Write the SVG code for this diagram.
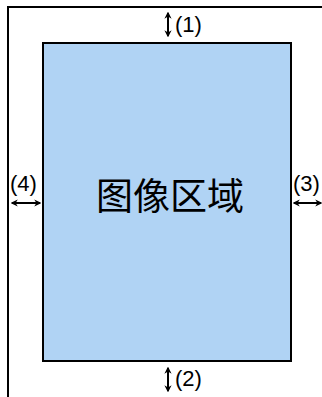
<svg xmlns="http://www.w3.org/2000/svg" width="322" height="397" viewBox="0 0 322 397">
<style>
.lbl{font-family:"Liberation Sans",Arial,sans-serif;font-size:22px;fill:#000}
.arr{stroke:#000;stroke-width:2;fill:none;marker-start:url(#ah);marker-end:url(#ah)}
</style>
<defs>
<marker id="ah" viewBox="0 0 10 10" refX="8" refY="5" markerWidth="3.6" markerHeight="3.6" orient="auto-start-reverse" markerUnits="strokeWidth">
<path d="M0,0 L10,5 L0,10 L3,5 Z" fill="#000"/>
</marker>
</defs>
<rect width="322" height="397" fill="#fff"/>
<g id="frame">
<path d="M8,397 V7 H322" fill="none" stroke="#000" stroke-width="2"/>
</g>
<g id="image-area">
<rect x="43" y="43" width="248" height="318" fill="#b0d3f4" stroke="#000" stroke-width="2"/>
<text x="170" y="200" text-anchor="middle" dominant-baseline="middle" style="font-family:'Noto Sans CJK SC','Liberation Sans',sans-serif;font-size:37px">图像区域</text>
</g>
<g id="connectors">
<line class="arr" x1="168" y1="13" x2="168" y2="36"/>
<line class="arr" x1="168" y1="368" x2="168" y2="391"/>
<line class="arr" x1="12" y1="203" x2="40" y2="203"/>
<line class="arr" x1="294" y1="203" x2="321" y2="203"/>
</g>
<g id="labels">
<text class="lbl" x="175" y="32">(1)</text>
<text class="lbl" x="175" y="386">(2)</text>
<text class="lbl" x="293" y="191">(3)</text>
<text class="lbl" x="10" y="191">(4)</text>
</g>
</svg>
